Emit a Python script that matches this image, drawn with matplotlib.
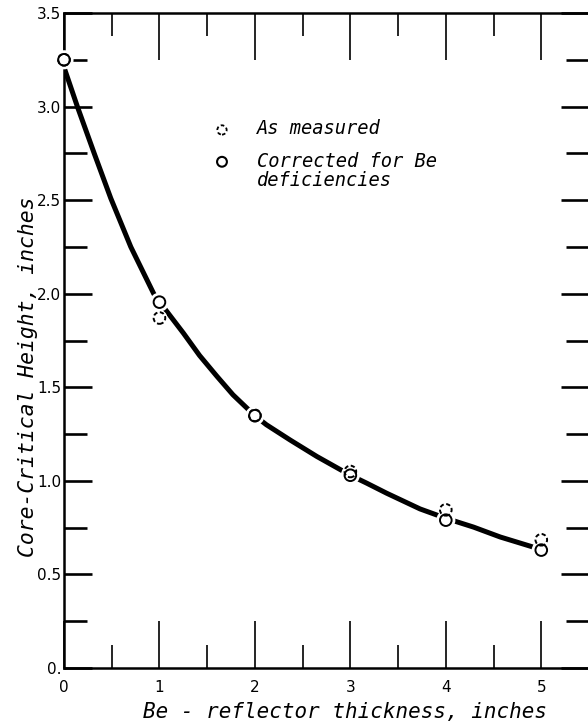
import numpy as np
import matplotlib
matplotlib.use('Agg')
import matplotlib.pyplot as plt

# Be-reflector thickness (in) vs core-critical height (in)
thickness = [0, 1, 2, 3, 4, 5]
height_measured = [3.25, 1.87, 1.35, 1.05, 0.845, 0.685]
height_corrected = [3.25, 1.955, 1.348, 1.03, 0.79, 0.63]

# faired curve
curve_x = [0.0, 0.14, 0.32, 0.49, 0.70, 0.94, 1.0, 1.07, 1.25, 1.42, 1.60,
           1.77, 2.0, 2.12, 2.37, 2.65, 2.86, 3.0, 3.17, 3.38, 3.73, 4.0,
           4.29, 4.57, 4.91]
curve_y = [3.21, 3.00, 2.745, 2.51, 2.25, 2.00, 1.955, 1.91, 1.79, 1.67, 1.56,
           1.46, 1.348, 1.30, 1.218, 1.13, 1.07, 1.03, 0.988, 0.934, 0.85, 0.80,
           0.753, 0.70, 0.647]

x_ticks = [0, 1, 2, 3, 4, 5]
y_ticks = [0, 0.5, 1.0, 1.5, 2.0, 2.5, 3.0, 3.5]
y_tick_labels = ['0.', '0.5', '1.0', '1.5', '2.0', '2.5', '3.0', '3.5']

lettering = 'DejaVu Sans Mono'

dpi = 100
fig = plt.figure(figsize=(5.88, 7.27), dpi=dpi)
ax = fig.add_axes([64 / 588, 59 / 727, 525 / 588, 655 / 727])

ax.plot(curve_x, curve_y, color='black', lw=3.6, solid_capstyle='round',
        solid_joinstyle='round', zorder=2)

# white halos break the curve around the data circles
ax.scatter(thickness, height_corrected, s=190, facecolor='white',
           edgecolor='none', zorder=3, clip_on=False)
ax.scatter(thickness, height_measured, s=130, facecolor='white',
           edgecolor='none', zorder=3, clip_on=False)

ax.scatter(thickness, height_measured, s=70, facecolor='none',
           edgecolor='black', linewidths=1.4, linestyle=(0, (2.2, 1.3)),
           zorder=4, clip_on=False)
ax.scatter(thickness, height_corrected, s=70, facecolor='none',
           edgecolor='black', linewidths=1.4, zorder=5, clip_on=False)

# legend drawn by hand
ax.scatter([1.655], [2.875], s=45, facecolor='none', edgecolor='black',
           linewidths=1.3, linestyle=(0, (2.0, 1.4)))
ax.scatter([1.655], [2.705], s=50, facecolor='none', edgecolor='black',
           linewidths=1.5)
ax.text(2.02, 2.885, 'As measured', style='italic', family=lettering,
        fontsize=13.5, va='center', ha='left')
ax.text(2.02, 2.705, 'Corrected for Be', style='italic', family=lettering,
        fontsize=13.5, va='center', ha='left')
ax.text(2.02, 2.605, 'deficiencies', style='italic', family=lettering,
        fontsize=13.5, va='center', ha='left')

ax.set_xlim(0, 5.5)
ax.set_ylim(0, 3.5)

ax.set_xticks(x_ticks)
ax.set_xticks(np.arange(0.5, 5.5, 1.0), minor=True)
ax.set_yticks(y_ticks)
ax.set_yticklabels(y_tick_labels)
ax.set_yticks(np.arange(0.25, 3.5, 0.5), minor=True)

ax.tick_params(axis='x', which='both', direction='in', top=True,
               bottom=True, width=1.2, labelsize=11, pad=9)
ax.tick_params(axis='x', which='major', length=34)
ax.tick_params(axis='x', which='minor', length=16.5)
ax.tick_params(axis='y', which='both', direction='in', left=True,
               right=True, width=1.9, labelsize=11, pad=2)
ax.tick_params(axis='y', which='major', length=20)
ax.tick_params(axis='y', which='minor', length=16.5)

for side in ['left', 'bottom', 'top', 'right']:
    ax.spines[side].set_linewidth(1.8)

ax.set_xlabel('Be - reflector thickness, inches', style='italic',
              family=lettering, fontsize=15)
ax.xaxis.set_label_coords(0.535, -0.067)
ax.xaxis.label.set_va('center')
ax.set_ylabel('Core-Critical Height, inches', style='italic',
              family=lettering, fontsize=15.4)
ax.yaxis.set_label_coords(-0.069, 0.444)
ax.yaxis.label.set_va('center')

fig.savefig('out.png', dpi=dpi)
